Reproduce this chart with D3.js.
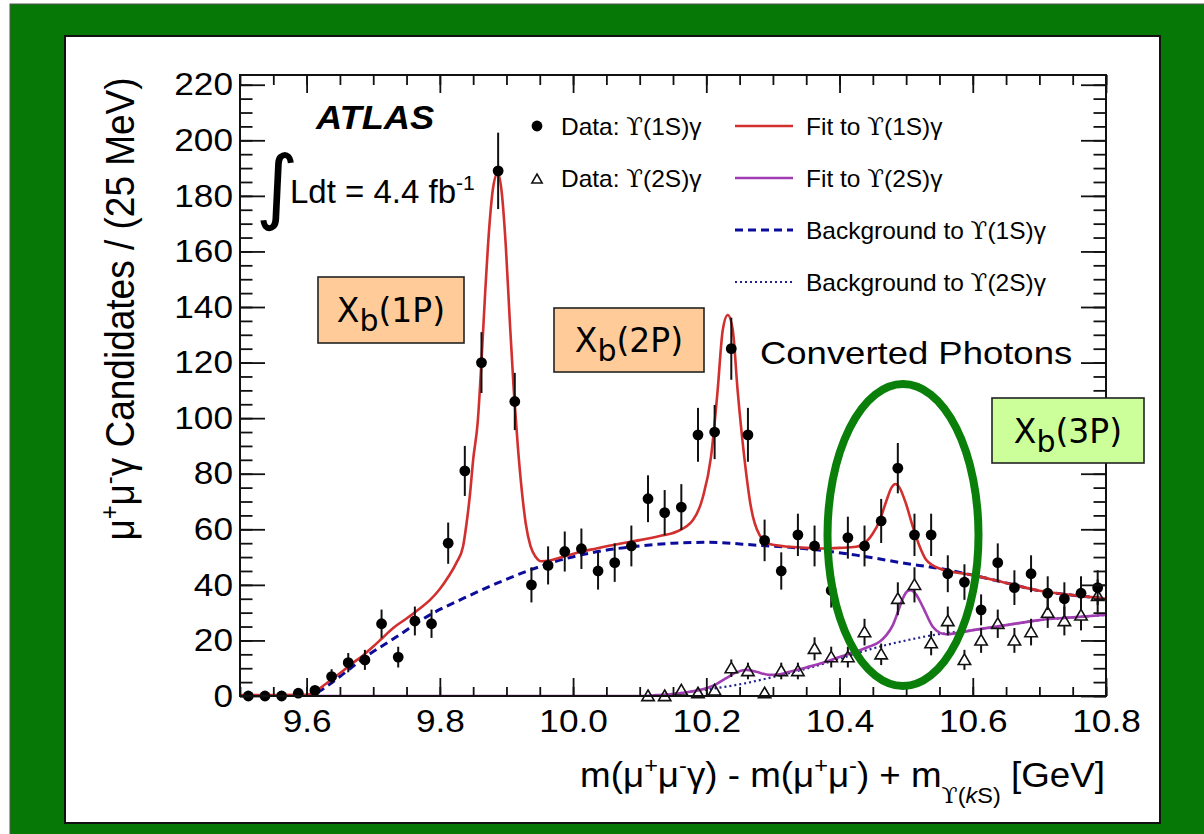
<!DOCTYPE html>
<html>
<head>
<meta charset="utf-8">
<script src="https://cdn.jsdelivr.net/npm/d3@7"></script>
<style>
  html, body { margin: 0; padding: 0; background: #fff; }
  svg { display: block; }
</style>
</head>
<body>
<svg id="chart" width="1204" height="834"></svg>
<script>
// ---------------- data ----------------
// histogram binning: 25 MeV bins starting at 9.5 GeV
const binLow = 9.5;
const binWidth = 0.025;

// Upsilon(1S) gamma candidates per bin
const counts1S = [0, 0, 0, 1, 2, 7, 12, 13, 26, 14,
                  27, 26, 55, 81, 120, 189, 106, 40, 47, 52,
                  53, 45, 48, 54, 71, 66, 68, 94, 95, 125,
                  94, 56, 45, 58, 54, 38, 57, 54, 63, 82,
                  58, 58, 44, 41, 31, 48, 39, 44, 37, 35,
                  37, 39];

// Upsilon(2S) gamma candidates per bin (no entries below 10.1 GeV)
const counts2S = [null, null, null, null, null, null, null, null, null, null,
                  null, null, null, null, null, null, null, null, null, null,
                  null, null, null, null, 0, 0, 2, 1, 2, 10,
                  9, 1, 9, 9, 17, 14, 14, 23, 15, 35,
                  40, 19, 27, 13, 20, 26, 20, 23, 30, 27,
                  29, 36];

// fit curves [mass GeV, candidates]
const fit1S = [[9.50,0.3],[9.55,0.3],[9.60,0.4],[9.61,1.2],[9.62,2.8],[9.635,5.5],[9.65,8.2],[9.67,12],
  [9.685,14.7],[9.70,17.8],[9.713,20.7],[9.73,24.5],[9.75,27.9],[9.77,31.5],[9.785,34.5],[9.80,38.5],
  [9.813,43],[9.825,48],[9.835,54],[9.840,62],[9.845,72],[9.850,85],[9.857,99],[9.8623,119.6],
  [9.868,145],[9.874,168],[9.880,183],[9.887,188.3],[9.893,181],[9.899,162],[9.905,135],[9.911,110],
  [9.917,90],[9.923,74],[9.929,62],[9.936,54],[9.944,50],[9.952,48.5],[9.965,48.8],[9.985,50.1],
  [10.01,51.8],[10.035,53.1],[10.07,54.8],[10.10,56.1],[10.13,57.6],[10.155,59.1],[10.18,63.3],
  [10.195,71.7],[10.207,86],[10.217,110],[10.2247,131.7],[10.2322,137.1],[10.2397,131.7],[10.247,110],
  [10.257,86],[10.267,68],[10.28,57.9],[10.295,54.7],[10.325,53.7],[10.35,53.3],[10.375,53.1],
  [10.40,53.3],[10.425,53.7],[10.44,55.5],[10.45,58.5],[10.46,63],[10.47,70],[10.478,75],[10.484,76.3],
  [10.49,75],[10.50,69],[10.51,61],[10.52,54],[10.53,49],[10.54,47],[10.55,45.9],[10.60,43.5],
  [10.65,40.7],[10.70,37.9],[10.75,36.3],[10.80,35]];

const bkg1S = [[9.50,0],[9.60,0],[9.61,0.5],[9.62,1.8],[9.635,4.3],[9.65,7],[9.685,13.5],[9.735,21.3],
  [9.785,29.2],[9.835,35.1],[9.885,40.5],[9.935,45.3],[9.985,49.2],[10.035,51.9],[10.10,54],[10.15,55],
  [10.20,55.3],[10.275,54.3],[10.35,53],[10.425,50.7],[10.50,47.7],[10.55,45.9],[10.60,43.5],
  [10.65,40.7],[10.70,37.9],[10.75,36.3],[10.80,35]];

const fit2S = [[9.50,0],[10.10,0],[10.125,0.3],[10.15,0.7],[10.175,1.5],[10.20,2.8],[10.215,4.3],
  [10.23,6.4],[10.245,8.5],[10.26,9.4],[10.275,8.7],[10.295,7.6],[10.31,7.8],[10.325,8.7],[10.35,10.3],
  [10.375,12],[10.40,14],[10.425,16],[10.445,17.8],[10.46,19.5],[10.47,21.8],[10.48,25.5],[10.488,30.5],
  [10.495,35.1],[10.502,37.8],[10.507,38.1],[10.515,36.5],[10.525,32.1],[10.54,24.9],[10.55,22.8],
  [10.56,22.2],[10.60,23.7],[10.65,25.5],[10.70,27.3],[10.75,28.3],[10.80,29.2]];

const bkg2S = [[9.50,0],[10.10,0],[10.15,0.8],[10.20,2.3],[10.25,4.2],[10.30,6.8],[10.35,9.8],
  [10.40,13.4],[10.45,17.1],[10.50,20],[10.55,22.3],[10.60,23.7],[10.65,25.5],[10.70,27.3],
  [10.75,28.3],[10.80,29.2]];

// axes
const xDomain = [9.5, 10.8];
const yDomain = [0, 223.5];
const xTickValues = [9.6, 9.8, 10.0, 10.2, 10.4, 10.6, 10.8];
const yTickValues = [0, 20, 40, 60, 80, 100, 120, 140, 160, 180, 200, 220];

// legend
const legendDataLabels = ["Data: ϒ(1S)γ", "Data: ϒ(2S)γ"];
const legendCurveLabels = ["Fit to ϒ(1S)γ", "Fit to ϒ(2S)γ", "Background to ϒ(1S)γ", "Background to ϒ(2S)γ"];

// state annotations
const stateLabels = ["1P", "2P", "3P"];

// ---------------- drawing ----------------
const svg = d3.select("#chart");
const SANS = "'Liberation Sans', Arial, Helvetica, sans-serif";
const UPS_FONT = "'DejaVu Serif', serif";
const STRETCH = 1.1;

const colRed = "#d22f2f";
const colPurple = "#a23cb2";
const colBlue = "#0c0c9c";
const colDot = "#22228e";
const colGreen = "#067806";

const plot = { left: 240, right: 1106, top: 75, bottom: 696 };
const x = d3.scaleLinear().domain(xDomain).range([plot.left, plot.right]);
const y = d3.scaleLinear().domain(yDomain).range([plot.bottom, plot.top]);

// outer green frame and white panel
svg.append("rect").attr("x", 10).attr("y", 4).attr("width", 1220).attr("height", 860)
  .attr("fill", colGreen).attr("stroke", "#555").attr("stroke-width", 1);
svg.append("rect").attr("x", 65).attr("y", 36).attr("width", 1095).attr("height", 787)
  .attr("fill", "#fff").attr("stroke", "#111").attr("stroke-width", 2);

// helper: text with horizontal stretch
function label(parent, px, py, str, o = {}) {
  const t = parent.append("text")
    .attr("transform", `translate(${px},${py}) scale(${o.sx || 1},1)${o.rotate ? ` rotate(${o.rotate})` : ""}`)
    .attr("font-family", o.family || SANS)
    .attr("font-size", o.size || 20)
    .attr("font-weight", o.weight || "normal")
    .attr("font-style", o.style || "normal")
    .attr("text-anchor", o.anchor || "start")
    .attr("fill", o.fill || "#000");
  if (str !== null) upsText(t, str);
  if (o.dy) t.attr("dy", o.dy);
  return t;
}

// helper: write a string, giving the upsilon symbol its own font
function upsText(t, str) {
  str.split(/(ϒ)/).filter(s => s.length).forEach(s => {
    const ts = t.append("tspan").text(s);
    if (s === "ϒ") ts.attr("font-family", UPS_FONT);
  });
}

// helper: rich text made of normal / superscript / subscript parts
function rich(t, parts, base) {
  let shift = 0;
  parts.forEach(p => {
    const [s, kind, italic] = p;
    const target = kind === "sup" ? -0.4 * base : kind === "sub" ? 0.45 * base : 0;
    const ts = t.append("tspan").text(s).attr("dy", target - shift);
    if (kind !== "n") ts.attr("font-size", base * 0.64);
    if (italic) ts.attr("font-style", "italic");
    if (s === "ϒ") ts.attr("font-family", UPS_FONT);
    shift = target;
  });
}

// clip for curves
svg.append("clipPath").attr("id", "plotClip").append("rect")
  .attr("x", plot.left).attr("y", plot.top)
  .attr("width", plot.right - plot.left).attr("height", plot.bottom - plot.top);

const curveLayer = svg.append("g").attr("clip-path", "url(#plotClip)");
const line = d3.line().x(d => x(d[0])).y(d => y(d[1])).curve(d3.curveMonotoneX);

curveLayer.append("path").datum(bkg2S).attr("d", line).attr("fill", "none")
  .attr("stroke", colDot).attr("stroke-width", 2.2).attr("stroke-dasharray", "2,3");
curveLayer.append("path").datum(bkg1S).attr("d", line).attr("fill", "none")
  .attr("stroke", colBlue).attr("stroke-width", 3).attr("stroke-dasharray", "8,5");
curveLayer.append("path").datum(fit2S).attr("d", line).attr("fill", "none")
  .attr("stroke", colPurple).attr("stroke-width", 2.6);
curveLayer.append("path").datum(fit1S).attr("d", line).attr("fill", "none")
  .attr("stroke", colRed).attr("stroke-width", 2.6);

// data points
const pts1S = counts1S.map((c, i) => ({ m: binLow + binWidth * (i + 0.5), n: c }));
const pts2S = counts2S.map((c, i) => ({ m: binLow + binWidth * (i + 0.5), n: c })).filter(d => d.n !== null);

const dataLayer = svg.append("g");
const triPath = "M0,-6L6.2,4.6L-6.2,4.6Z";

// 2S: open triangles with error bars (bars stop at the marker)
const g2 = dataLayer.append("g");
pts2S.filter(d => d.n > 0).forEach(d => {
  const e = Math.sqrt(d.n);
  const cx = x(d.m), cy = y(d.n);
  if (y(d.n + e) < cy - 6) g2.append("line").attr("x1", cx).attr("x2", cx)
    .attr("y1", y(d.n + e)).attr("y2", cy - 6).attr("stroke", "#111").attr("stroke-width", 2);
  if (y(d.n - e) > cy + 4.6) g2.append("line").attr("x1", cx).attr("x2", cx)
    .attr("y1", cy + 4.6).attr("y2", y(d.n - e)).attr("stroke", "#111").attr("stroke-width", 2);
});
g2.selectAll("path.tri").data(pts2S).join("path").attr("class", "tri")
  .attr("d", triPath)
  .attr("transform", d => `translate(${x(d.m)},${y(d.n)})`)
  .attr("fill", "none").attr("stroke", "#111").attr("stroke-width", 1.6);

// 1S: filled circles with error bars
const g1 = dataLayer.append("g");
g1.selectAll("line").data(pts1S.filter(d => d.n > 0)).join("line")
  .attr("x1", d => x(d.m)).attr("x2", d => x(d.m))
  .attr("y1", d => y(d.n + Math.sqrt(d.n))).attr("y2", d => y(d.n - Math.sqrt(d.n)))
  .attr("stroke", "#111").attr("stroke-width", 2);
g1.selectAll("circle").data(pts1S).join("circle")
  .attr("cx", d => x(d.m)).attr("cy", d => y(d.n)).attr("r", 5.4).attr("fill", "#000");

// axes (ticks inward on all four sides)
const xMinor = d3.range(0, 27).map(i => 9.5 + 0.05 * i);
const yMinor = d3.range(0, 45).map(i => 5 * i);
const axes = svg.append("g");
function noDomain(g) { g.select(".domain").remove(); }

axes.append("g").attr("transform", `translate(0,${plot.bottom})`)
  .call(d3.axisBottom(x).tickValues(xMinor).tickSize(-9).tickFormat(""))
  .call(noDomain);
const xb = axes.append("g").attr("transform", `translate(0,${plot.bottom})`)
  .call(d3.axisBottom(x).tickValues(xTickValues).tickSize(-18).tickPadding(13).tickFormat(d3.format(".1f")))
  .call(noDomain);
axes.append("g").attr("transform", `translate(0,${plot.top})`)
  .call(d3.axisTop(x).tickValues(xMinor).tickSize(-10).tickFormat("")).call(noDomain);
axes.append("g").attr("transform", `translate(0,${plot.top})`)
  .call(d3.axisTop(x).tickValues(xTickValues).tickSize(-18).tickFormat("")).call(noDomain);

axes.append("g").attr("transform", `translate(${plot.left},0)`)
  .call(d3.axisLeft(y).tickValues(yMinor).tickSize(-12.5).tickFormat("")).call(noDomain);
const yl = axes.append("g").attr("transform", `translate(${plot.left},0)`)
  .call(d3.axisLeft(y).tickValues(yTickValues).tickSize(-25).tickPadding(7).tickFormat(d3.format("d")))
  .call(noDomain);
axes.append("g").attr("transform", `translate(${plot.right},0)`)
  .call(d3.axisRight(y).tickValues(yMinor).tickSize(-12.5).tickFormat("")).call(noDomain);
axes.append("g").attr("transform", `translate(${plot.right},0)`)
  .call(d3.axisRight(y).tickValues(yTickValues).tickSize(-25).tickFormat("")).call(noDomain);

axes.selectAll(".tick line").attr("stroke", "#111").attr("stroke-width", 1.8);
[xb, yl].forEach(g => g.selectAll("text")
  .attr("font-family", SANS).attr("font-size", 32).attr("fill", "#000")
  .attr("transform", `scale(${STRETCH},1)`));
yl.selectAll("text").attr("x", -7 / STRETCH);

axes.append("rect").attr("x", plot.left).attr("y", plot.top)
  .attr("width", plot.right - plot.left).attr("height", plot.bottom - plot.top)
  .attr("fill", "none").attr("stroke", "#111").attr("stroke-width", 2);

// axis titles
const xt = label(svg, 1105, 787, null, { size: 35, anchor: "end", sx: 1.05 });
rich(xt, [["m(μ", "n"], ["+", "sup"], ["μ", "n"], ["-", "sup"], ["γ) - m(μ", "n"], ["+", "sup"],
  ["μ", "n"], ["-", "sup"], [") + m", "n"], ["ϒ", "sub"], ["(", "sub"], ["k", "sub", true], ["S)", "sub"],
  [" [GeV]", "n"]], 35);

const yt = label(svg, 134, 309, null, { size: 37, anchor: "middle", sx: 1.08, rotate: -90 });
rich(yt, [["μ", "n"], ["+", "sup"], ["μ", "n"], ["-", "sup"], ["γ Candidates / (25 MeV)", "n"]], 37);

// experiment and luminosity
label(svg, 316, 129, "ATLAS", { size: 33, weight: "bold", style: "italic", sx: 1.1 });
label(svg, 277, 214, "∫", { size: 82, anchor: "middle", family: "'DejaVu Sans', sans-serif" });
const lum = label(svg, 290, 203, null, { size: 33 });
rich(lum, [["Ldt = 4.4 fb", "n"], ["-1", "sup"]], 33);

// legend
const leg = svg.append("g");
const rowY = i => 126 + 52 * i;
leg.append("circle").attr("cx", 537).attr("cy", rowY(0)).attr("r", 5.4).attr("fill", "#000");
leg.append("path").attr("d", "M0,-5L5.2,4L-5.2,4Z").attr("transform", `translate(537,${rowY(1) + 1})`)
  .attr("fill", "none").attr("stroke", "#111").attr("stroke-width", 1.5);
legendDataLabels.forEach((s, i) => label(leg, 561, rowY(i), s, { size: 24, dy: "0.36em", sx: 1.02 }));
const legStyles = [
  { c: colRed, w: 2.6, dash: null },
  { c: colPurple, w: 2.6, dash: null },
  { c: colBlue, w: 3, dash: "8,5" },
  { c: colDot, w: 2.2, dash: "2,3" }
];
legendCurveLabels.forEach((s, i) => {
  const st = legStyles[i];
  const ln = leg.append("line").attr("x1", 735).attr("x2", 793).attr("y1", rowY(i)).attr("y2", rowY(i))
    .attr("stroke", st.c).attr("stroke-width", st.w);
  if (st.dash) ln.attr("stroke-dasharray", st.dash);
  label(leg, 806, rowY(i), s, { size: 24, dy: "0.36em", sx: 1.02 });
});

// state boxes
const ann = svg.append("g");
const boxes = [
  { x: 318, y: 277, w: 146, h: 66, fill: "#ffcc99" },
  { x: 554, y: 308, w: 150, h: 64, fill: "#ffcc99" },
  { x: 992, y: 398, w: 152, h: 65, fill: "#ccff99" }
];
boxes.forEach((b, i) => {
  ann.append("rect").attr("x", b.x).attr("y", b.y).attr("width", b.w).attr("height", b.h)
    .attr("fill", b.fill).attr("stroke", "#222").attr("stroke-width", 1.6);
  const t = label(ann, b.x + b.w / 2, b.y + b.h / 2 + 12, null,
    { size: 33, anchor: "middle", family: "'DejaVu Sans', sans-serif" });
  t.append("tspan").text("X");
  t.append("tspan").text("b").attr("dy", 9).attr("font-size", 30);
  t.append("tspan").text("(" + stateLabels[i] + ")").attr("dy", -9);
});

label(ann, 760, 364, "Converted Photons", { size: 32, sx: 1.14 });

// highlight around the 3P region
ann.append("ellipse").attr("cx", 903).attr("cy", 535).attr("rx", 75.5).attr("ry", 151)
  .attr("fill", "none").attr("stroke", "#0a800a").attr("stroke-width", 8);
</script>
</body>
</html>
